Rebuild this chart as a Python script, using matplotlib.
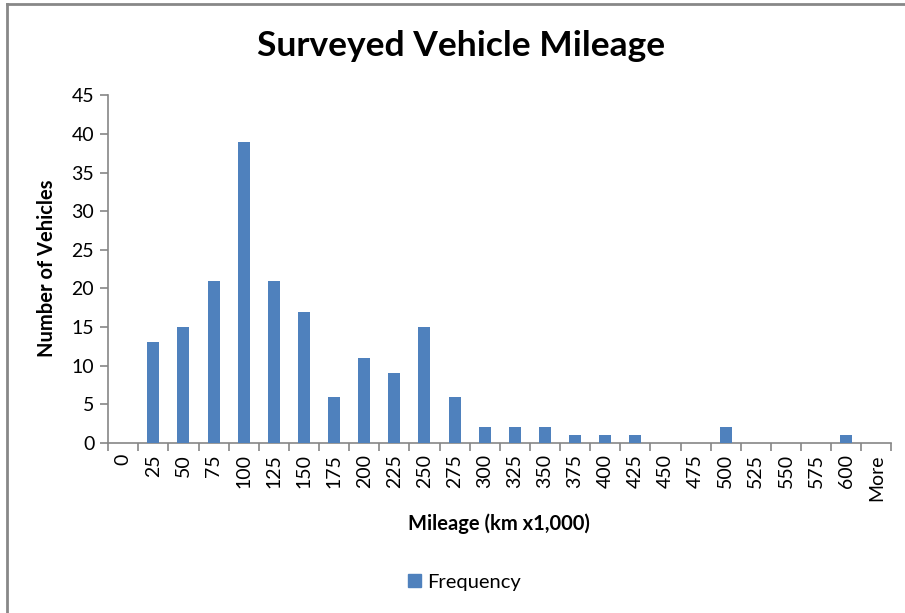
import matplotlib
matplotlib.use("Agg")
import matplotlib.pyplot as plt
from matplotlib.lines import Line2D
from matplotlib.patches import Patch
import numpy as np

categories = ["0", "25", "50", "75", "100", "125", "150", "175", "200", "225",
              "250", "275", "300", "325", "350", "375", "400", "425", "450",
              "475", "500", "525", "550", "575", "600", "More"]
frequency = [0, 13, 15, 21, 39, 21, 17, 6, 11, 9, 15, 6, 2, 2, 2, 1, 1, 1,
             0, 0, 2, 0, 0, 0, 1, 0]
y_ticks = [0, 5, 10, 15, 20, 25, 30, 35, 40, 45]

plt.rcParams['font.family'] = ['Lato', 'DejaVu Sans']

fig = plt.figure(figsize=(9.05, 6.13), dpi=100)
ax = fig.add_axes([0.1195, 0.2775, 0.8655, 0.567])

bar_color = "#4F81BD"
axis_color = "#868686"
x = np.arange(len(categories))
ax.bar(x, frequency, width=0.4, color=bar_color, label="Frequency", zorder=3)

ax.set_xlim(-0.5, len(categories) - 0.5)
ax.set_ylim(0, 45)
ax.set_yticks(y_ticks)
ax.set_yticklabels([str(v) for v in y_ticks], fontsize=14)
ax.set_xticks(x)
ax.set_xticklabels(categories, rotation=90, fontsize=14)
ax.set_xticks(np.arange(-0.5, len(categories)), minor=True)
ax.tick_params(axis='x', which='major', length=0, pad=8)
ax.tick_params(axis='x', which='minor', length=6, color=axis_color, width=1.2)
ax.tick_params(axis='y', which='major', length=6, color=axis_color, width=1.2, pad=4)

for s in ["top", "right"]:
    ax.spines[s].set_visible(False)
for s in ["left", "bottom"]:
    ax.spines[s].set_color(axis_color)
    ax.spines[s].set_linewidth(1.2)

fig.text(0.510, 0.925, "Surveyed Vehicle Mileage", ha="center", va="center",
         fontsize=25.5, fontweight="bold")
fig.text(0.551, 0.145, "Mileage (km x1,000)", ha="center", va="center",
         fontsize=14.5, fontweight="bold")
fig.text(0.052, 0.563, "Number of Vehicles", ha="center", va="center",
         fontsize=14.5, fontweight="bold", rotation=90)

handles = [Patch(facecolor=bar_color, edgecolor=bar_color, label="Frequency")]
fig.legend(handles=handles, loc="center", bbox_to_anchor=(0.513, 0.05),
           frameon=False, fontsize=14.5, handlelength=0.65, handleheight=0.65,
           handletextpad=0.3)

# chart border (top and left visible)
fig.add_artist(Line2D([0.0075, 0.0075], [0, 0.994], transform=fig.transFigure,
                      color="#888888", linewidth=2))
fig.add_artist(Line2D([0.0075, 1.0], [0.994, 0.994], transform=fig.transFigure,
                      color="#888888", linewidth=2))

fig.savefig("out.png", dpi=100)
